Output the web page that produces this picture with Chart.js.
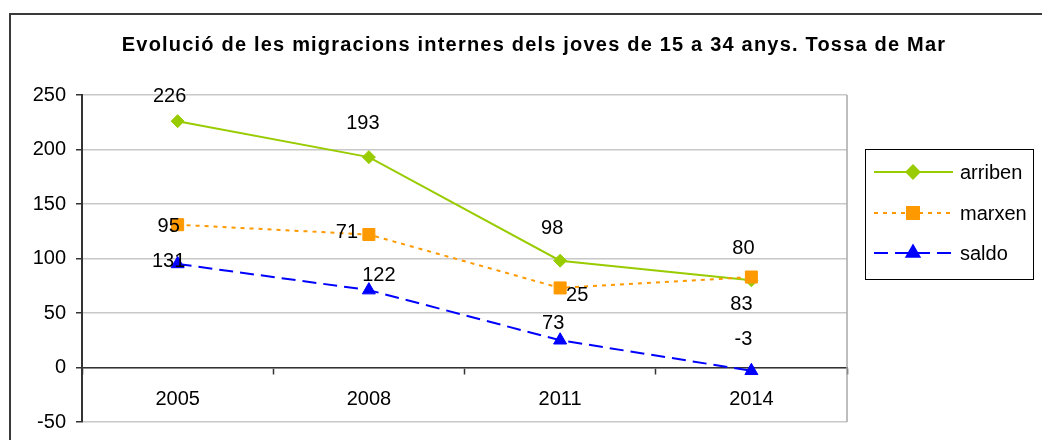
<!DOCTYPE html>
<html>
<head>
<meta charset="utf-8">
<script src="https://cdn.jsdelivr.net/npm/chart.js@4/dist/chart.umd.min.js"></script>
<style>
  html, body { margin: 0; padding: 0; background: #ffffff; }
  #wrap { width: 1042px; height: 440px; position: relative; }
</style>
</head>
<body>
<div id="wrap"><canvas id="c" width="1042" height="440"></canvas></div>
<script>
// ---- data ----
const years = ['2005', '2008', '2011', '2014'];
const arriben = [226, 193, 98, 80];
const marxen = [131, 122, 73, 83];
const saldo = [95, 71, 25, -3];
const yTicks = [-50, 0, 50, 100, 150, 200, 250];
const seriesNames = ['arriben', 'marxen', 'saldo'];
const chartTitle = 'Evolució de les migracions internes dels joves de 15 a 34 anys. Tossa de Mar';

// ---- styling ----
const FONT = '"Liberation Sans", Arial, sans-serif';
const GREEN = '#99CC00', ORANGE = '#FF9900', BLUE = '#0000FF';

// value label offsets (px) from each point, per series
const labelOffsets = [
  [[-8, -25], [-6, -34], [-8, -32], [-8, -32]],
  [[-9, 37], [10, 41], [-7, 36], [-10, 27]],
  [[-9, -37], [-22, -58], [17, -45], [-8, -31]]
];

const framePlugin = {
  id: 'frame',
  beforeDraw(chart) {
    const ctx = chart.ctx;
    ctx.save();
    ctx.fillStyle = '#ffffff';
    ctx.fillRect(0, 0, chart.width, chart.height);
    ctx.strokeStyle = '#3a3a3a';
    ctx.lineWidth = 2;
    ctx.beginPath();
    ctx.moveTo(10, chart.height);
    ctx.lineTo(10, 14);
    ctx.lineTo(chart.width, 14);
    ctx.stroke();
    // title
    ctx.fillStyle = '#000000';
    ctx.font = 'bold 20px ' + FONT;
    ctx.letterSpacing = '1.2px';
    ctx.textAlign = 'center';
    ctx.textBaseline = 'alphabetic';
    ctx.fillText(chartTitle, 534, 51);
    ctx.restore();
  },
  beforeDatasetsDraw(chart) {
    const a = chart.chartArea, ctx = chart.ctx;
    ctx.save();
    ctx.strokeStyle = '#a8a8a8';
    ctx.lineWidth = 1.5;
    ctx.beginPath();
    ctx.moveTo(a.right, a.top);
    ctx.lineTo(a.right, a.bottom);
    ctx.stroke();
    ctx.restore();
  }
};

const valueLabels = {
  id: 'valueLabels',
  afterDatasetsDraw(chart) {
    const ctx = chart.ctx;
    ctx.save();
    ctx.fillStyle = '#000000';
    ctx.font = '20px ' + FONT;
    ctx.textAlign = 'center';
    ctx.textBaseline = 'middle';
    chart.data.datasets.forEach((ds, i) => {
      const meta = chart.getDatasetMeta(i);
      meta.data.forEach((pt, j) => {
        const off = labelOffsets[i][j];
        ctx.fillText(String(ds.data[j]), pt.x + off[0], pt.y + off[1]);
      });
    });
    ctx.restore();
  }
};

const boxLegend = {
  id: 'boxLegend',
  afterDraw(chart) {
    const ctx = chart.ctx;
    const box = { x: 865, y: 149, w: 168, h: 130 };
    const rows = [172, 213, 253];
    ctx.save();
    ctx.strokeStyle = '#000000';
    ctx.lineWidth = 1;
    ctx.strokeRect(box.x + 0.5, box.y + 0.5, box.w, box.h);
    chart.data.datasets.forEach((ds, i) => {
      const y = rows[i];
      ctx.strokeStyle = ds.borderColor;
      ctx.lineWidth = ds.borderWidth;
      ctx.setLineDash(ds.borderDash || []);
      ctx.beginPath();
      ctx.moveTo(874, y);
      ctx.lineTo(953, y);
      ctx.stroke();
      ctx.setLineDash([]);
      ctx.fillStyle = ds.pointBackgroundColor;
      ctx.strokeStyle = ds.pointBorderColor;
      Chart.helpers.drawPoint(ctx, {
        pointStyle: ds.pointStyle, radius: ds.pointRadius, rotation: 0, borderWidth: ds.pointBorderWidth
      }, 913, y);
      ctx.fillStyle = '#000000';
      ctx.font = '20px ' + FONT;
      ctx.textAlign = 'left';
      ctx.textBaseline = 'middle';
      ctx.fillText(ds.label, 960, y + 1);
    });
    ctx.restore();
  }
};

function series(label, data, color, dash, style, radius, order) {
  return {
    label, data, order,
    borderColor: color, borderWidth: 2, borderDash: dash,
    pointStyle: style, pointRadius: radius, pointHoverRadius: radius,
    pointBackgroundColor: color, pointBorderColor: color, pointBorderWidth: 1,
    tension: 0, fill: false
  };
}

new Chart(document.getElementById('c'), {
  type: 'line',
  data: {
    labels: years,
    datasets: [
      series(seriesNames[0], arriben, GREEN, [], 'rectRot', 6.5, 2),
      series(seriesNames[1], marxen, ORANGE, [4, 5], 'rect', 8.5, 1),
      series(seriesNames[2], saldo, BLUE, [14, 7], 'triangle', 7.5, 0)
    ]
  },
  options: {
    responsive: false,
    animation: false,
    devicePixelRatio: 1,
    layout: { padding: { left: 10, top: 95, right: 195, bottom: 18 } },
    plugins: {
      legend: { display: false },
      title: { display: false },
      tooltip: { enabled: false }
    },
    scales: {
      x: {
        type: 'category',
        offset: true,
        position: { y: 0 },
        afterFit(s) { s.height = 0; s.paddingTop = 0; s.paddingBottom = 0; s.paddingLeft = 0; s.paddingRight = 0; },
        grid: {
          offset: true, drawOnChartArea: false, drawTicks: true,
          tickLength: 6, tickColor: '#333333', tickWidth: 1.5
        },
        border: { display: true, color: '#333333', width: 1.5 },
        ticks: { color: '#000000', font: { family: FONT, size: 20 }, padding: 14, maxRotation: 0 }
      },
      y: {
        min: -50, max: 250,
        afterBuildTicks(s) { s.ticks = yTicks.map(v => ({ value: v })); },
        afterFit(s) { s.width = 72; s.paddingTop = 0; s.paddingBottom = 0; },
        grid: { color: '#c8c8c8', lineWidth: 1.5, tickColor: '#333333', tickLength: 6, drawTicks: true },
        border: { display: true, color: '#333333', width: 2 },
        ticks: { color: '#000000', font: { family: FONT, size: 20 }, padding: 10 }
      }
    }
  },
  plugins: [framePlugin, valueLabels, boxLegend]
});
</script>
</body>
</html>
